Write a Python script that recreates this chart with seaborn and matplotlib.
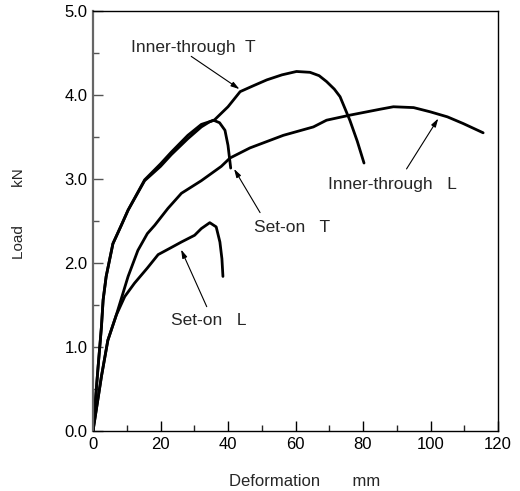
import numpy as np
import pandas as pd
import matplotlib
matplotlib.use("Agg")
import matplotlib.pyplot as plt
import seaborn as sns

sns.set_style("white")
plt.rcParams['font.family'] = ['Liberation Sans', 'DejaVu Sans']

# Inner-through T
it_t_x = [0, 1.5, 2.5, 3.0, 3.9, 5.9, 8.4, 10.4, 15.3, 20, 23.2, 28.1, 32.1, 35.9,
          40, 43.6, 47.5, 51.5, 56, 60.3, 64.3, 67, 69.2, 71.5, 73.2, 76.1, 78.3, 80.3]
it_t_y = [0, 0.76, 1.24, 1.56, 1.84, 2.23, 2.45, 2.63, 2.99, 3.18, 3.32, 3.52, 3.65, 3.70,
          3.86, 4.04, 4.11, 4.18, 4.24, 4.28, 4.27, 4.23, 4.16, 4.07, 3.98, 3.70, 3.45, 3.19]
# Set-on T
so_t_x = [0, 1.5, 2.5, 3.0, 3.9, 5.9, 8.4, 10.4, 15.3, 20, 23.2, 28.1, 32.1, 34.5, 35.7,
          37.5, 39.1, 40.0, 40.8]
so_t_y = [0, 0.76, 1.24, 1.56, 1.84, 2.23, 2.45, 2.63, 2.98, 3.15, 3.29, 3.48, 3.62, 3.68, 3.70,
          3.67, 3.58, 3.40, 3.13]
# Inner-through L
it_l_x = [0, 2.5, 4.4, 6.9, 10.4, 13.3, 16.1, 18.3, 22.2, 26.2, 32.1, 38.0, 40.6, 46.5,
          56.4, 65.3, 69.2, 76.1, 85.0, 89.0, 95, 99.9, 105, 109.7, 115.6]
it_l_y = [0, 0.65, 1.08, 1.38, 1.84, 2.15, 2.35, 2.45, 2.65, 2.83, 2.98, 3.15, 3.25, 3.37,
          3.52, 3.62, 3.70, 3.76, 3.83, 3.86, 3.85, 3.80, 3.74, 3.66, 3.55]
# Set-on L
so_l_x = [0, 2.5, 4.4, 6.9, 9.4, 12.3, 16.1, 19.3, 23, 26.2, 30.1, 32.1, 34.6, 36.5,
          37.6, 38.2, 38.5]
so_l_y = [0, 0.65, 1.08, 1.38, 1.60, 1.76, 1.94, 2.10, 2.18, 2.25, 2.33, 2.41, 2.48, 2.43,
          2.25, 2.05, 1.84]

x_ticks = [0, 20, 40, 60, 80, 100, 120]
y_ticks = [0.0, 1.0, 2.0, 3.0, 4.0, 5.0]

frames = []
for name, xs, ys in [("Inner-through T", it_t_x, it_t_y), ("Set-on T", so_t_x, so_t_y),
                     ("Inner-through L", it_l_x, it_l_y), ("Set-on L", so_l_x, so_l_y)]:
    frames.append(pd.DataFrame({"series": name, "x": xs, "y": ys}))
df = pd.concat(frames, ignore_index=True)

fig = plt.figure(figsize=(5.2, 4.91), dpi=100)
ax = fig.add_axes([93/520, 1-431/491, 405/520, 420/491])

sns.lineplot(data=df, x="x", y="y", units="series", estimator=None, sort=False,
             color="black", linewidth=2.0, ax=ax, legend=False)

ax.set_xlim(0, 120)
ax.set_ylim(0, 5.0)
ax.set_xticks(x_ticks)
ax.set_xticklabels([str(v) for v in x_ticks])
ax.set_xticks([10, 30, 50, 70, 90, 110], minor=True)
ax.set_yticks(y_ticks)
ax.set_yticklabels([f"{v:.1f}" for v in y_ticks])
ax.set_yticks([0.5, 1.5, 2.5, 3.5, 4.5], minor=True)
ax.tick_params(which="major", direction="in", length=7, width=1, labelsize=12,
               colors="black", top=False, right=False, bottom=True, left=True, pad=4)
ax.tick_params(which="minor", direction="in", length=4.5, width=1,
               top=False, right=False, bottom=True, left=True)
ax.tick_params(axis="y", which="both", color="#555555")

for s in ["top", "right", "bottom"]:
    ax.spines[s].set_color("black")
    ax.spines[s].set_linewidth(1.0)
ax.spines["left"].set_color("#666666")
ax.spines["left"].set_linewidth(1.6)

ax.set_xlabel("Deformation       mm", fontsize=12)
ax.xaxis.set_label_coords((305 - 93) / 405, -(481 - 431) / 420)
ax.set_ylabel("Load         kN", fontsize=11)
ax.yaxis.set_label_coords(-(93 - 19) / 405, (431 - 213.5) / 420)
ax.xaxis.label.set_va("center")
ax.yaxis.label.set_va("center")

arrow = dict(arrowstyle="-|>,head_length=0.5,head_width=0.15", color="black", lw=0.8,
             shrinkA=0, shrinkB=0)
fs = 12.5
ax.annotate("", xy=(43.4, 4.07), xytext=(29.1, 4.46), arrowprops=arrow)
ax.text(29.6, 4.57, "Inner-through  T", ha="center", va="center", fontsize=fs)

ax.annotate("", xy=(41.8, 3.12), xytext=(49.5, 2.60), arrowprops=arrow)
ax.text(59.0, 2.42, "Set-on   T", ha="center", va="center", fontsize=fs)

ax.annotate("", xy=(102.3, 3.72), xytext=(92.9, 3.12), arrowprops=arrow)
ax.text(88.6, 2.94, "Inner-through   L", ha="center", va="center", fontsize=fs)

ax.annotate("", xy=(26.1, 2.16), xytext=(33.7, 1.48), arrowprops=arrow)
ax.text(34.4, 1.32, "Set-on   L", ha="center", va="center", fontsize=fs)

fig.savefig("out.png", dpi=100)
